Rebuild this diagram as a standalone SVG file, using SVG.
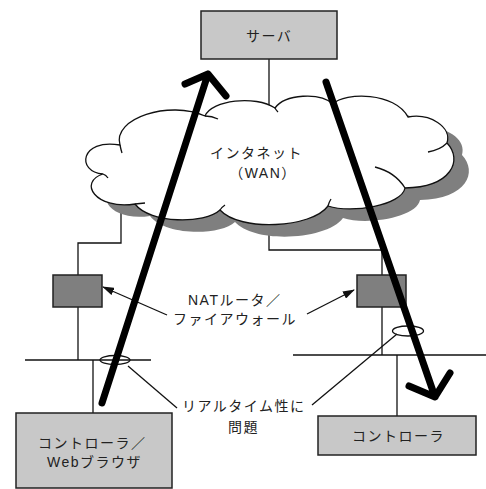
<svg xmlns="http://www.w3.org/2000/svg" width="486" height="489" viewBox="0 0 486 489">
<style>
text{font-family:"Liberation Sans","Noto Sans CJK JP",sans-serif;font-size:14px;letter-spacing:1.5px;fill:#222}
.ln{stroke:#111;stroke-width:1.3;fill:none}
.box{fill:#c8c8c8;stroke:#222;stroke-width:1.5}
.rt{fill:#7f7f7f;stroke:#222;stroke-width:1.5}
.big{stroke:#000;stroke-width:7;fill:none;stroke-linecap:round;stroke-linejoin:round}
</style>
<defs>
<path id="cloudPath" d="M120,145 C112,118 170,100 205,116 C212,100 255,95 275,108 C285,94 320,92 333,104 C345,92 395,92 408,117 C430,113 452,127 447,143 C463,160 452,187 405,188 C402,205 352,214 328,206 C312,228 240,232 220,210 C205,224 150,224 135,204 C95,210 78,182 103,174 C76,172 80,138 120,145 Z"/>
<marker id="ah" markerWidth="12" markerHeight="8" refX="11" refY="4" orient="auto" markerUnits="userSpaceOnUse">
<path d="M0,0 L12,4 L0,8 Z" fill="#111"/>
</marker>
</defs>
<g id="connectors">
<path class="ln" d="M269,59 V110"/>
<path class="ln" d="M121,200 V243 H78 V275"/>
<path class="ln" d="M78,307 V360"/>
<path class="ln" d="M25,360 H151"/>
<path class="ln" d="M93,360 V413"/>
<path class="ln" d="M269,215 V250 H382 V275"/>
<path class="ln" d="M382,307 V355"/>
<path class="ln" d="M293,355 H486"/>
<path class="ln" d="M397,355 V416"/>
<path class="ln" d="M167,315 L103,287" marker-end="url(#ah)"/>
<path class="ln" d="M307,314 L354,290" marker-end="url(#ah)"/>
<path class="ln" d="M177,408 L128,366"/>
<path class="ln" d="M312,405 L397,334"/>
</g>
<g id="cloud">
<use href="#cloudPath" transform="translate(15,12)" fill="#7f7f7f"/>
<use href="#cloudPath" fill="#fff" stroke="#111" stroke-width="1.3"/>
<path class="ln" d="M205,116 Q212,116 218,119 M447,143 Q440,150 428,152 M405,188 Q395,172 375,167 M135,204 L145,203 M103,174 Q106,175 108,178 M120,145 Q121,150 122,153 M328,206 Q329,202 331,199 M220,210 Q222,207 225,205 M275,108 Q276,110 278,112"/>
<text x="210" y="158">インタネット</text>
<text x="263" y="178" text-anchor="middle">（WAN）</text>
</g>
<g id="server">
<rect class="box" x="201" y="11" width="136" height="48"/>
<text x="246" y="41">サーバ</text>
</g>
<g id="routerL"><rect class="rt" x="53" y="275" width="49" height="32"/></g>
<g id="routerR"><rect class="rt" x="357" y="275" width="49" height="32"/></g>
<g id="ctrlL">
<rect class="box" x="16" y="413" width="156" height="75"/>
<text x="38" y="448">コントローラ／</text>
<text x="47" y="467">Webブラウザ</text>
</g>
<g id="ctrlR">
<rect class="box" x="318" y="416" width="158" height="39"/>
<text x="352" y="441">コントローラ</text>
</g>
<g id="ellipses">
<ellipse cx="115" cy="360" rx="15" ry="4.5" class="ln"/>
<ellipse cx="408" cy="331" rx="15.5" ry="5" class="ln"/>
</g>
<g id="labels">
<text x="188" y="305">NATルータ／</text>
<text x="173" y="324">ファイアウォール</text>
<text x="182" y="411">リアルタイム性に</text>
<text x="228" y="432">問題</text>
</g>
<g id="bigArrows">
<path class="big" d="M102,403 L208,74 M185,84 L208,74 L226,96"/>
<path class="big" d="M326,82 L435,397 M409,386 L435,397 L450,373"/>
</g>
</svg>
